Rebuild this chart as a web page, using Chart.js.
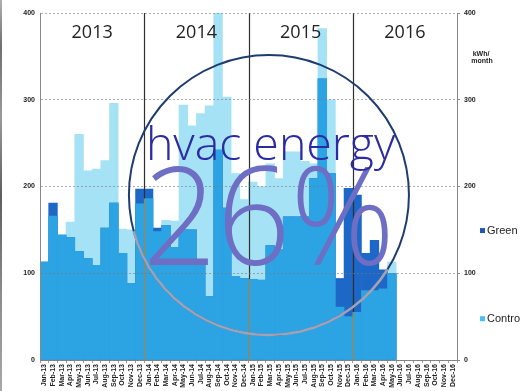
<!DOCTYPE html>
<html>
<head>
<meta charset="utf-8">
<script src="https://cdn.jsdelivr.net/npm/chart.js@4.4.1/dist/chart.umd.min.js"></script>
<style>
  html, body { margin: 0; padding: 0; background: #fff; }
  #wrap { width: 522px; height: 391px; position: relative; }
  #edge { position: absolute; left: 0; top: 0; width: 2px; height: 391px;
          background: linear-gradient(#b0b0b0, #6f6f6f 12%, #9a9a9a 30%, #5e5e5e 50%, #8c8c8c 75%, #a8a8a8); }
</style>
</head>
<body>
<div id="wrap"><canvas id="hvac" width="522" height="391"></canvas><div id="edge"></div></div>
<script>
// Monthly HVAC energy (kWh/month), green homes vs. control homes, 2013-2016
const months = ["Jan", "Feb", "Mar", "Apr", "May", "Jun", "Jul", "Aug", "Sep", "Oct", "Nov", "Dec"];
const yearSuffixes = ["13", "14", "15", "16"];
const yearNames = ["2013", "2014", "2015", "2016"];
const labels = yearSuffixes.flatMap((yy) => months.map((m) => m + "-" + yy));

const green = [
  113, 181, 144, 141, 125, 117, 109, 152, 181, 123, 88, 197,
  197, 152, 155, 130, 150, 150, 115, 73, 242, 175, 96, 94,
  93, 92, 132, 127, 165, 165, 165, 209, 324, 215, 94, 198,
  190, 123, 138, 104, 100, null, null, null, null, null, null, null,
];
const control = [
  113, 166, 144, 159, 260, 218, 220, 230, 296, 151, 150, 180,
  186, 148, 161, 160, 294, 270, 284, 293, 400, 303, 215, 185,
  205, 200, 226, 209, 240, 240, 229, 226, 382, 300, 61, 50,
  55, 80, 80, 82, 113, null, null, null, null, null, null, null,
];
// part of each month both groups used
const shared = green.map((g, i) => (g == null ? null : Math.min(g, control[i])));

const yTicks = [0, 100, 200, 300, 400];

const colors = {
  control: "#a6e2f6",
  green: "#1d68c6",
  shared: "#2ca3e3",
};

const tickFont = { family: "Liberation Sans, Arial, sans-serif", size: 7, weight: "bold" };

// stretch a string across a given width
function fitText(ctx, str, x0, x1, baseline, font, color) {
  ctx.save();
  ctx.font = font;
  const w = ctx.measureText(str).width;
  ctx.translate(x0, baseline);
  ctx.scale((x1 - x0) / w, 1);
  ctx.fillStyle = color;
  ctx.textAlign = "left";
  ctx.textBaseline = "alphabetic";
  ctx.fillText(str, 0, 0);
  ctx.restore();
}

const overlay = {
  id: "overlay",
  afterDatasetsDraw(chart) {
    const { ctx, chartArea: a, scales: { x, y } } = chart;
    ctx.save();
    // year dividers
    for (let k = 1; k < yearNames.length; k++) {
      const i = k * 12;
      const xb = Math.round((x.getPixelForValue(i - 1) + x.getPixelForValue(i)) / 2) + 0.5;
      const yb = y.getPixelForValue(shared[i] || 0);
      ctx.lineWidth = 1.2;
      ctx.strokeStyle = "#2f2f2f";
      ctx.beginPath();
      ctx.moveTo(xb, a.top);
      ctx.lineTo(xb, yb);
      ctx.stroke();
      ctx.strokeStyle = "#b08040";
      ctx.beginPath();
      ctx.moveTo(xb, yb);
      ctx.lineTo(xb, a.bottom);
      ctx.stroke();
    }
    // year names
    ctx.fillStyle = "#222";
    ctx.font = "18px 'Open Sans', sans-serif";
    ctx.textAlign = "center";
    ctx.textBaseline = "alphabetic";
    yearNames.forEach((name, k) => {
      const xc = (x.getPixelForValue(k * 12) + x.getPixelForValue(k * 12 + 11)) / 2;
      ctx.fillText(name, xc, a.top + 25);
    });
    ctx.restore();
  },
  afterDraw(chart) {
    const { ctx, chartArea: a } = chart;
    const W = a.right - a.left;
    const H = a.bottom - a.top;
    ctx.save();

    // ring
    const cx = a.left + 0.549 * W;
    const cy = a.top + 0.5245 * H;
    const r = 0.4035 * H;
    ctx.lineWidth = 2;
    ctx.strokeStyle = "#1f3c70";
    ctx.beginPath();
    ctx.arc(cx, cy, r, 0, Math.PI * 2);
    ctx.stroke();
    ctx.lineWidth = 2.6;
    ctx.strokeStyle = "#a2a2b4";
    ctx.beginPath();
    ctx.arc(cx, cy, r, (32 * Math.PI) / 180, (165 * Math.PI) / 180);
    ctx.stroke();

    // headline
    fitText(ctx, "26%", a.left + 0.247 * W, a.left + 0.851 * W, a.top + 0.726 * H,
      "300 137px 'Open Sans', sans-serif", "#6e6ec4");
    fitText(ctx, "hvac energy", a.left + 0.254 * W, a.left + 0.852 * W, a.top + 0.424 * H,
      "300 46px 'Open Sans', sans-serif", "#2b2ba4");

    // unit label
    ctx.fillStyle = "#222";
    ctx.font = "bold 7px 'Liberation Sans', Arial, sans-serif";
    ctx.textAlign = "center";
    ctx.fillText("kWh/", 481, a.top + 43);
    ctx.fillText("month", 482, a.top + 50);

    // legend
    const legend = [
      { text: "Green", color: "#1f55b4", y: a.top + 0.627 * H },
      { text: "Contro", color: "#45c0f0", y: a.top + 0.881 * H },
    ];
    ctx.font = "11px 'Liberation Sans', Arial, sans-serif";
    ctx.textAlign = "left";
    ctx.textBaseline = "middle";
    legend.forEach((item) => {
      ctx.fillStyle = item.color;
      ctx.fillRect(480, item.y - 2.5, 5, 5);
      ctx.fillStyle = "#222";
      ctx.fillText(item.text, 487, item.y);
    });
    ctx.restore();
  },
};

const barStyle = {
  grouped: false,
  barPercentage: 1,
  categoryPercentage: 1,
  borderWidth: 0,
};

new Chart(document.getElementById("hvac"), {
  type: "bar",
  data: {
    labels: labels,
    datasets: [
      { label: "Shared", data: shared, backgroundColor: colors.shared, ...barStyle },
      { label: "Green", data: green, backgroundColor: colors.green, ...barStyle },
      { label: "Control", data: control, backgroundColor: colors.control, ...barStyle },
    ],
  },
  options: {
    responsive: false,
    animation: false,
    layout: { padding: { top: 13, left: 0, right: 0, bottom: 0 } },
    plugins: {
      legend: { display: false },
      tooltip: { enabled: false },
    },
    scales: {
      x: {
        offset: true,
        grid: { display: true, drawOnChartArea: false, tickLength: 3, color: "#999" },
        border: { color: "#888", dash: [2, 2] },
        ticks: {
          autoSkip: false,
          minRotation: 90,
          maxRotation: 90,
          padding: 1,
          color: "#222",
          font: tickFont,
        },
        afterFit: (s) => { s.height = 31; },
      },
      y: {
        position: "left",
        min: 0,
        max: 400,
        afterBuildTicks: (s) => { s.ticks = yTicks.map((v) => ({ value: v })); },
        grid: { color: "rgba(120, 120, 120, 0.6)", z: 1, drawTicks: false },
        border: { color: "#888", dash: [2, 2], z: 1 },
        ticks: { color: "#222", font: tickFont, padding: 5 },
        afterFit: (s) => { s.width = 40; },
      },
      y1: {
        position: "right",
        min: 0,
        max: 400,
        afterBuildTicks: (s) => { s.ticks = yTicks.map((v) => ({ value: v })); },
        grid: { drawOnChartArea: false, drawTicks: true, tickLength: 3, color: "#888" },
        border: { color: "#888", dash: [2, 2] },
        ticks: { color: "#222", font: tickFont, padding: 4 },
        afterFit: (s) => { s.width = 65; },
      },
    },
  },
  plugins: [overlay],
});
</script>
</body>
</html>
